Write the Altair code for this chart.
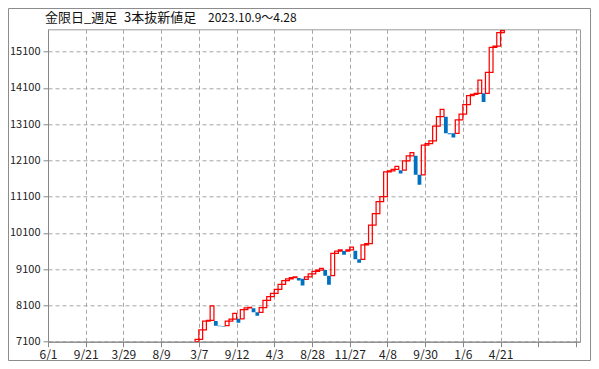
import altair as alt
import pandas as pd

# ---- data ----
first_slot = 39
opens = [7100, 7165, 7423, 7671, 7690, 7671, 7542, 7525, 7542, 7665,
         7720, 7730, 7730, 7985, 8030, 8025, 7910, 7910, 8039, 8241,
         8342, 8434, 8545, 8683, 8784, 8830, 8866, 8860, 8840, 8820,
         8890, 8968, 9041, 9075, 9075, 8922, 8922, 9538, 9602, 9602,
         9602, 9632, 9608, 9372, 9372, 9768, 9808, 10319, 10632, 10963,
         11101, 11785, 11815, 11852, 11830, 11830, 12085, 12228, 12228, 11705,
         11705, 12520, 12565, 12637, 13050, 13308, 13308, 12848, 12848, 12848,
         13216, 13380, 13640, 13887, 13920, 13951, 13951, 13951, 14531, 15220,
         15257, 15625]
closes = [7165, 7423, 7671, 7690, 8085, 7542, 7525, 7512, 7665, 7720,
          7883, 7625, 7985, 8030, 8048, 7910, 7818, 8039, 8241, 8342,
          8434, 8545, 8683, 8784, 8830, 8866, 8885, 8790, 8648, 8890,
          8968, 9041, 9075, 9124, 8922, 8673, 9538, 9602, 9630, 9500,
          9632, 9708, 9372, 9280, 9768, 9808, 10319, 10632, 10963, 11101,
          11785, 11815, 11852, 11940, 11740, 12085, 12228, 12318, 11705, 11430,
          12520, 12565, 12637, 13050, 13308, 13510, 12848, 12822, 12732, 13216,
          13380, 13640, 13887, 13920, 13951, 14319, 13712, 14531, 15220, 15257,
          15625, 15680]
x_tick_labels = ["6/1", "9/21", "3/29", "8/9", "3/7", "9/12", "4/3", "8/28",
                 "11/27", "4/8", "9/30", "1/6", "4/21"]
y_ticks = [7100, 8100, 9100, 10100, 11100, 12100, 13100, 14100, 15100]
title_parts = ["金限日_週足", "3本抜新値足", "2023.10.9〜4.28"]

slots = list(range(first_slot, first_slot + len(opens)))
df = pd.DataFrame({"slot": slots, "open": opens, "close": closes})
df["slot_end"] = df["slot"] + 1
df["up"] = df["close"] > df["open"]

W, H = 532, 312.4
FONT = "Noto Sans CJK JP"

x_scale = alt.Scale(domain=[0, 141.07], nice=False, zero=False)
y_scale = alt.Scale(domain=[7100, 15718], nice=False, zero=False)

label_expr = " : ".join(
    f"datum.value == {i * 10} ? '{lab}'" for i, lab in enumerate(x_tick_labels)
) + " : ''"

x_axis = alt.Axis(values=list(range(0, 141, 10)), labelExpr=label_expr, title=None,
                  grid=True, tickSize=5, labelPadding=3, labelFlush=False,
                  labelOverlap=False, labelFontSize=12)
y_axis = alt.Axis(values=y_ticks, format="d", title=None, grid=True, tickSize=5,
                  labelPadding=3, labelFontSize=11)

base = alt.Chart(df)
red = base.transform_filter("datum.up").mark_rect(
    fillOpacity=0, stroke="#FF0000", strokeWidth=1.25, clip=True
).encode(
    x=alt.X("slot:Q", scale=x_scale, axis=x_axis),
    x2="slot_end:Q",
    y=alt.Y("open:Q", scale=y_scale, axis=y_axis),
    y2="close:Q",
)
blue = base.transform_filter("!datum.up").mark_rect(
    color="#0070C0", clip=True
).encode(
    x=alt.X("slot:Q", scale=x_scale, axis=x_axis),
    x2="slot_end:Q",
    y=alt.Y("open:Q", scale=y_scale, axis=y_axis),
    y2="close:Q",
)

frame = alt.Chart(pd.DataFrame({"k": [0]})).mark_rect(
    fillOpacity=0, stroke="#8c8c8c", strokeWidth=1
).encode(
    x=alt.value(-39.5), x2=alt.value(542.5), y=alt.value(-20.8), y2=alt.value(331.2)
)

t1 = alt.Chart(pd.DataFrame({"t": [title_parts[0]]})).mark_text(
    align="left", baseline="middle", font=FONT, fontSize=13, color="#111111"
).encode(x=alt.value(-3), y=alt.value(-11.8), text="t:N")
t2 = alt.Chart(pd.DataFrame({"t": [title_parts[1]]})).mark_text(
    align="left", baseline="middle", font=FONT, fontSize=13, color="#111111"
).encode(x=alt.value(76), y=alt.value(-11.8), text="t:N")
t3 = alt.Chart(pd.DataFrame({"t": [title_parts[2]]})).mark_text(
    align="left", baseline="middle", font=FONT, fontSize=12, color="#111111"
).encode(x=alt.value(160), y=alt.value(-11.8), text="t:N")

chart = alt.layer(red, blue, frame, t1, t2, t3).properties(
    width=W, height=H,
    padding={"left": 40, "top": 21.3, "right": 11, "bottom": 19.3},
    autosize=alt.AutoSizeParams(type="none"),
    background="white",
).configure_view(
    stroke="#9a9a9a", strokeWidth=1
).configure_axis(
    domainColor="#868686", tickColor="#868686", gridColor="#A6A6A6",
    gridDash=[4, 3], gridWidth=1, labelFont=FONT,
    labelColor="#222222"
)

chart.save("out.html", embed_options={"renderer": "svg", "actions": False})
